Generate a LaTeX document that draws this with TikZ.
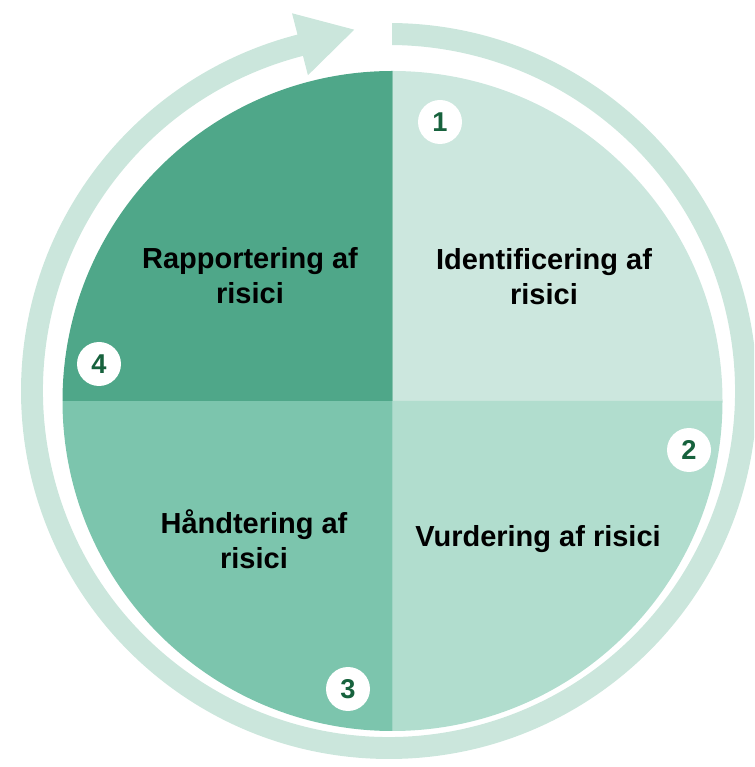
\documentclass[tikz,border=0pt]{standalone}
\usepackage{fontspec}
\setmainfont{Liberation Sans}
\definecolor{ringcol}{HTML}{CBE6DC}
\definecolor{qone}{HTML}{CCE7DE}
\definecolor{qtwo}{HTML}{B1DDCE}
\definecolor{qthree}{HTML}{7CC5AD}
\definecolor{qfour}{HTML}{4FA789}
\definecolor{numcol}{HTML}{17623D}
\begin{document}
\begin{tikzpicture}[x=0.02cm,y=0.02cm,
  numbadge/.style={circle,fill=white,minimum size=0.88cm,inner sep=0pt,
    font=\fontsize{15.5}{17}\selectfont\bfseries,text=numcol},
  label/.style={align=center,font=\fontsize{16.5}{19.8}\selectfont\bfseries,text=black,inner sep=0pt}]
\useasboundingbox (0,0) rectangle (754,767);
\clip (0,0) rectangle (754,767);
% outer ring with arrow
\coordinate (rc) at (389,376);
\fill[ringcol] ([shift={(89.5:368)}]rc) arc[start angle=89.5,end angle=-255.6,radius=368]
  -- ([shift={(104.4:390)}]rc) -- ([shift={(95.5:363)}]rc) -- ([shift={(104.4:326)}]rc)
  -- ([shift={(104.4:346)}]rc) arc[start angle=104.4,end angle=449.5,radius=346] -- cycle;
% pie
\coordinate (pc) at (392.5,366);
\fill[qone] (pc) -- ++(0,330) arc[start angle=90,end angle=0,radius=330] -- cycle;
\fill[qtwo] (pc) -- ++(330,0) arc[start angle=0,end angle=-90,radius=330] -- cycle;
\fill[qthree] (pc) -- ++(0,-330) arc[start angle=-90,end angle=-180,radius=330] -- cycle;
\fill[qfour] (pc) -- ++(-330,0) arc[start angle=180,end angle=90,radius=330] -- cycle;
% labels
\node[label] (t1) at (544,490) {Identificering af\\risici};
\node[label,anchor=base] (t2) at (538,220) {Vurdering af risici};
\node[label] (t3) at (254,228) {Håndtering af\\risici};
\node[label] (t4) at (250,491) {Rapportering af\\risici};
% numbers
\node[numbadge] (n1) at (440,645) {1};
\node[numbadge] (n2) at (689,317) {2};
\node[numbadge] (n3) at (348,78) {3};
\node[numbadge] (n4) at (99,403) {4};
\end{tikzpicture}
\end{document}
